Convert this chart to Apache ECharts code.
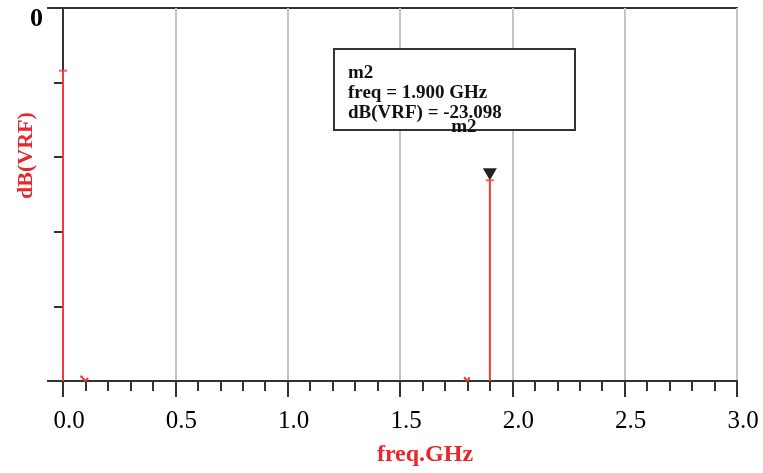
<!DOCTYPE html>
<html><head><meta charset="utf-8">
<script src="https://cdn.jsdelivr.net/npm/echarts@6/dist/echarts.min.js"></script>
<style>html,body{margin:0;padding:0;background:#fff}#c{width:763px;height:473px}</style>
</head><body><div id="c"></div>
<script>
// Spectrum data (dB(VRF) vs freq in GHz)
var spikeFreq = [0.0, 1.9];
var spikeDb = [-8.4, -23.098];
var blip1Freq = [0.078, 0.1, 0.112];
var blip1Db = [-49.3, -50, -49.6];
var blip2Freq = [1.785, 1.8, 1.81];
var blip2Db = [-49.5, -50, -49.5];
var floorDb = -50;
var xTicks = ['0.0', '0.5', '1.0', '1.5', '2.0', '2.5', '3.0'];
var markerName = 'm2';
var markerFreq = 1.9;
var markerDb = -23.098;

var RED = '#f23a3a';
var SERIF = '"Liberation Serif","Times New Roman",serif';

var lineData = [];
for (var i = 0; i < spikeFreq.length; i++) {
  lineData.push([spikeFreq[i], floorDb]);
  lineData.push([spikeFreq[i], spikeDb[i]]);
  lineData.push([spikeFreq[i], '-']);
}
[[blip1Freq, blip1Db], [blip2Freq, blip2Db]].forEach(function (b) {
  for (var j = 0; j < b[0].length; j++) lineData.push([b[0][j], b[1][j]]);
  lineData.push([b[0][b[0].length - 1], '-']);
});
var tops = spikeFreq.map(function (f, i) { return [f, spikeDb[i]]; });

var chart = echarts.init(document.getElementById('c'));
chart.setOption({
  animation: false,
  grid: {left: 63, top: 8, width: 674, height: 373, show: true, borderColor: '#333', borderWidth: 2,
    backgroundColor: 'transparent', containLabel: false, outerBoundsMode: 'none'},
  xAxis: {
    type: 'value', min: 0, max: 3, interval: 0.5,
    name: 'freq.GHz', nameLocation: 'middle', nameGap: 62, nameMoveOverlap: false,
    nameTextStyle: {color: '#e8262b', fontFamily: SERIF, fontWeight: 'bold', fontSize: 24, padding: [0, 0, 0, 50]},
    axisLine: {show: true, onZero: false, lineStyle: {color: '#333', width: 2}},
    axisTick: {show: true, length: 16, lineStyle: {color: '#333', width: 2}},
    minorTick: {show: true, splitNumber: 5, length: 10, lineStyle: {color: '#333', width: 2}},
    axisLabel: {color: '#000', fontFamily: SERIF, fontSize: 25, margin: 28, padding: [0, 0, 0, 12],
      formatter: function (v) { return xTicks[Math.round(v / 0.5)]; }},
    splitLine: {show: true, lineStyle: {color: '#c4c4c4', width: 2}}
  },
  yAxis: {
    type: 'value', min: -50, max: 0, interval: 50,
    name: 'dB(VRF)', nameLocation: 'middle', nameGap: 26, nameRotate: 90, nameMoveOverlap: false,
    nameTextStyle: {color: '#e8262b', fontFamily: SERIF, fontWeight: 'bold', fontSize: 22, padding: [0, 0, 0, 78]},
    axisLine: {show: true, onZero: false, lineStyle: {color: '#333', width: 2}},
    axisTick: {show: true, length: 16, lineStyle: {color: '#333', width: 2}},
    minorTick: {show: true, splitNumber: 5, length: 9, lineStyle: {color: '#333', width: 2}},
    axisLabel: {color: '#000', fontFamily: SERIF, fontWeight: 'bold', fontSize: 26, margin: 20, verticalAlign: 'top', lineHeight: 22,
      formatter: function (v) { return v === 0 ? '0' : ''; }},
    splitLine: {show: false}
  },
  graphic: [{
    type: 'group', left: 333, top: 48, z: 1,
    children: [
      {type: 'rect', shape: {x: 0, y: 0, width: 241, height: 81}, style: {fill: '#fff', stroke: '#333', lineWidth: 2}, z: 1},
      {type: 'text', x: 14, y: 14, z: 1, style: {
        text: markerName + '\nfreq = ' + markerFreq.toFixed(3) + ' GHz\ndB(VRF) = ' + markerDb.toFixed(3),
        font: 'bold 19px ' + SERIF, lineHeight: 20, fill: '#111'}}
    ]
  }],
  series: [{
    type: 'line', data: lineData, showSymbol: false, connectNulls: false,
    lineStyle: {color: RED, width: 2}, z: 3,
    markPoint: {
      symbol: 'triangle', symbolRotate: 180, symbolSize: [14, 12], symbolOffset: [0, -6],
      itemStyle: {color: '#222'},
      label: {show: true, position: 'inside', offset: [-26, -47], formatter: markerName,
        color: '#111', fontFamily: SERIF, fontWeight: 'bold', fontSize: 19},
      data: [{coord: [markerFreq, markerDb]}]
    }
  }, {
    type: 'scatter', data: tops, symbol: 'rect', symbolSize: [8, 2],
    itemStyle: {color: RED}, z: 4, silent: true
  }]
});
</script></body></html>
